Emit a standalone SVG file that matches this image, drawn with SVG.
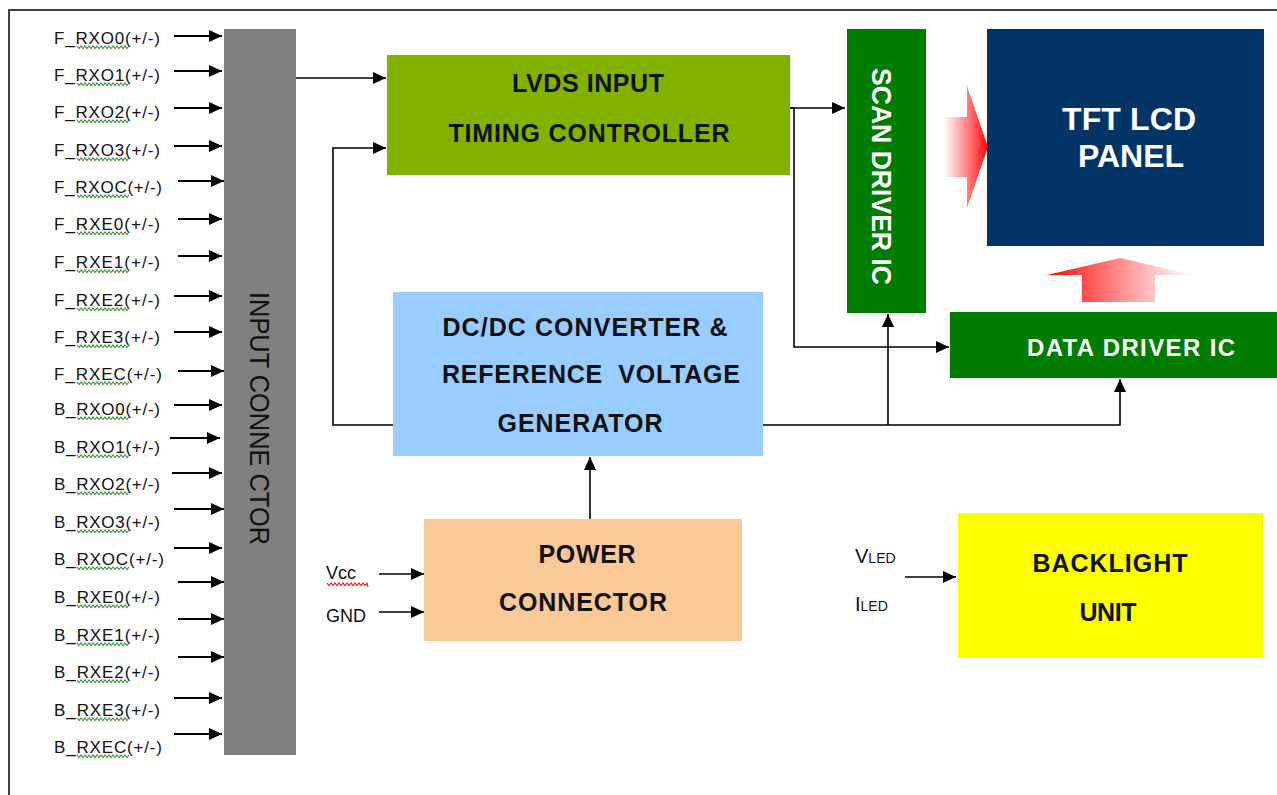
<svg xmlns="http://www.w3.org/2000/svg" width="1277" height="795" viewBox="0 0 1277 795">
<style>
.lbl{font-family:"Liberation Sans",Arial,sans-serif;font-size:17px;fill:#111}
.bt{font-family:"Liberation Sans",Arial,sans-serif;font-weight:bold;font-size:25px;fill:#111;text-anchor:middle}
.wt{fill:#fff}
.ln{stroke:#000;stroke-width:1.6;fill:none}
.in{stroke:#000;stroke-width:2;fill:none}
.sq{stroke:#3a9a3a;stroke-width:1.1;fill:none}
</style>
<defs>
<marker id="ah" markerUnits="userSpaceOnUse" markerWidth="14" markerHeight="12" refX="13" refY="6" orient="auto">
<path d="M0,0 L13,6 L0,12 z" fill="#000"/>
</marker>
<path id="sqp" d="M0 0 l2 2.5 l2 -2.5 l2 2.5 l2 -2.5 l2 2.5 l2 -2.5 l2 2.5 l2 -2.5 l2 2.5 l2 -2.5 l2 2.5 l2 -2.5 l2 2.5 l2 -2.5 l2 2.5 l2 -2.5 l2 2.5 l2 -2.5 l2 2.5 l2 -2.5 l2 2.5 l2 -2.5 l2 2.5 l2 -2.5 l2 2.5 l2 -2.5"/>
<linearGradient id="gr" x1="943" y1="0" x2="988" y2="0" gradientUnits="userSpaceOnUse">
<stop offset="0" stop-color="#ff3030" stop-opacity="0"/>
<stop offset="1" stop-color="#ff0000" stop-opacity="1"/>
</linearGradient>
<linearGradient id="gu" x1="1047" y1="0" x2="1195" y2="0" gradientUnits="userSpaceOnUse">
<stop offset="0" stop-color="#ff0000" stop-opacity="1"/>
<stop offset="1" stop-color="#ff4040" stop-opacity="0"/>
</linearGradient>
</defs>
<rect width="1277" height="795" fill="#fff"/>
<path d="M9,795 V10 H1277" stroke="#404040" stroke-width="2" fill="none"/>

<g id="input-labels">
<text class="lbl" x="54" y="44" textLength="106">F_RXO0(+/-)</text>
<text class="lbl" x="54" y="81" textLength="106">F_RXO1(+/-)</text>
<text class="lbl" x="54" y="118" textLength="106">F_RXO2(+/-)</text>
<text class="lbl" x="54" y="156" textLength="106">F_RXO3(+/-)</text>
<text class="lbl" x="54" y="193" textLength="108">F_RXOC(+/-)</text>
<text class="lbl" x="54" y="230" textLength="106">F_RXE0(+/-)</text>
<text class="lbl" x="54" y="268" textLength="106">F_RXE1(+/-)</text>
<text class="lbl" x="54" y="306" textLength="106">F_RXE2(+/-)</text>
<text class="lbl" x="54" y="343" textLength="106">F_RXE3(+/-)</text>
<text class="lbl" x="54" y="380" textLength="108">F_RXEC(+/-)</text>
<text class="lbl" x="54" y="415" textLength="106">B_RXO0(+/-)</text>
<text class="lbl" x="54" y="453" textLength="106">B_RXO1(+/-)</text>
<text class="lbl" x="54" y="490" textLength="106">B_RXO2(+/-)</text>
<text class="lbl" x="54" y="528" textLength="106">B_RXO3(+/-)</text>
<text class="lbl" x="54" y="565" textLength="110">B_RXOC(+/-)</text>
<text class="lbl" x="54" y="603" textLength="106">B_RXE0(+/-)</text>
<text class="lbl" x="54" y="641" textLength="106">B_RXE1(+/-)</text>
<text class="lbl" x="54" y="678" textLength="106">B_RXE2(+/-)</text>
<text class="lbl" x="54" y="716" textLength="106">B_RXE3(+/-)</text>
<text class="lbl" x="54" y="753" textLength="108">B_RXEC(+/-)</text>
<g class="sq">
<use href="#sqp" x="77" y="46"/><use href="#sqp" x="77" y="83"/><use href="#sqp" x="77" y="120"/><use href="#sqp" x="77" y="158"/><use href="#sqp" x="77" y="195"/>
<use href="#sqp" x="77" y="232"/><use href="#sqp" x="77" y="270"/><use href="#sqp" x="77" y="308"/><use href="#sqp" x="77" y="345"/><use href="#sqp" x="77" y="382"/>
<use href="#sqp" x="77" y="417"/><use href="#sqp" x="77" y="455"/><use href="#sqp" x="77" y="492"/><use href="#sqp" x="77" y="530"/><use href="#sqp" x="77" y="567"/>
<use href="#sqp" x="77" y="605"/><use href="#sqp" x="77" y="643"/><use href="#sqp" x="77" y="680"/><use href="#sqp" x="77" y="718"/><use href="#sqp" x="77" y="755"/>
</g>
</g>

<g id="input-connector">
<rect x="224" y="29" width="72" height="726" fill="#808080"/>
<text x="259" y="428" transform="rotate(90 259 418.5)" font-family="Liberation Sans,Arial,sans-serif" font-size="28" fill="#111" text-anchor="middle" textLength="253" lengthAdjust="spacingAndGlyphs">INPUT CONNE CTOR</text>
</g>

<g id="lvds">
<rect x="387" y="55" width="403" height="120" fill="#82b100"/>
<text class="bt" x="588" y="92" textLength="152">LVDS INPUT</text>
<text class="bt" x="589" y="142" textLength="281">TIMING CONTROLLER</text>
</g>

<g id="dcdc">
<rect x="393" y="292" width="370" height="164" fill="#99ccff"/>
<text class="bt" x="585" y="336" textLength="285">DC/DC CONVERTER &amp;</text>
<text class="bt" x="591" y="383" textLength="298" xml:space="preserve">REFERENCE  VOLTAGE</text>
<text class="bt" x="580" y="432" textLength="165">GENERATOR</text>
</g>

<g id="power">
<rect x="424" y="519" width="318" height="122" fill="#fac998"/>
<text class="bt" x="587" y="563" textLength="97">POWER</text>
<text class="bt" x="583" y="611" textLength="168">CONNECTOR</text>
</g>

<g id="scan-driver">
<rect x="847" y="29" width="79" height="284" fill="#007c00"/>
<text x="882" y="186.5" transform="rotate(90 882 176.5)" font-family="Liberation Sans,Arial,sans-serif" font-weight="bold" font-size="28" fill="#fff" text-anchor="middle" textLength="217" lengthAdjust="spacingAndGlyphs">SCAN DRIVER IC</text>
</g>

<g id="tft-panel">
<rect x="987" y="29" width="277" height="217" fill="#033466"/>
<text class="bt wt" x="1129" y="130" style="font-size:32px" textLength="134">TFT LCD</text>
<text class="bt wt" x="1131" y="167" style="font-size:32px" textLength="106">PANEL</text>
</g>

<g id="data-driver">
<rect x="950" y="312" width="327" height="66" fill="#007c00"/>
<text class="bt wt" x="1131" y="356" style="font-size:24px" textLength="208">DATA DRIVER IC</text>
</g>

<g id="backlight">
<rect x="958" y="513" width="305" height="144" fill="#ffff00"/>
<text class="bt" x="1110" y="572" textLength="155">BACKLIGHT</text>
<text class="bt" x="1108" y="621" textLength="57">UNIT</text>
</g>

<g id="power-labels">
<text class="lbl" x="326" y="579" style="font-size:18px">Vcc</text>
<path d="M327 583 l2 2.5 l2 -2.5 l2 2.5 l2 -2.5 l2 2.5 l2 -2.5 l2 2.5 l2 -2.5 l2 2.5 l2 -2.5 l2 2.5 l2 -2.5 l2 2.5 l2 -2.5 l2 2.5 l2 -2.5 l2 2.5 l2 -2.5 l2 2.5 l2 -2.5 l1 4" stroke="#e02020" stroke-width="1.1" fill="none"/>
<text class="lbl" x="326" y="622" style="font-size:18px">GND</text>
<text class="lbl" x="855" y="563" style="font-size:20px">V<tspan style="font-size:14px">LED</tspan></text>
<text class="lbl" x="855" y="611" style="font-size:20px">I<tspan style="font-size:14px">LED</tspan></text>
</g>

<g id="red-arrows">
<path d="M943,117 H967 V86 L988,147 L967,208 V177 H943 z" fill="url(#gr)"/>
<path d="M1082,302 V275 H1047 L1120,258 L1193,275 H1155 V302 z" fill="url(#gu)"/>
</g>

<g id="connectors">
<g class="in" marker-end="url(#ah)">
<line x1="174" y1="36" x2="222" y2="36"/>
<line x1="174" y1="71" x2="222" y2="71"/>
<line x1="174" y1="108" x2="222" y2="108"/>
<line x1="174" y1="146" x2="222" y2="146"/>
<line x1="178" y1="181" x2="224" y2="181"/>
<line x1="178" y1="219" x2="222" y2="219"/>
<line x1="178" y1="256" x2="222" y2="256"/>
<line x1="174" y1="296" x2="222" y2="296"/>
<line x1="174" y1="332" x2="222" y2="332"/>
<line x1="178" y1="371" x2="224" y2="371"/>
<line x1="174" y1="405" x2="222" y2="405"/>
<line x1="170" y1="438" x2="220" y2="438"/>
<line x1="172" y1="473" x2="222" y2="473"/>
<line x1="174" y1="509" x2="224" y2="509"/>
<line x1="174" y1="548" x2="222" y2="548"/>
<line x1="178" y1="582" x2="224" y2="582"/>
<line x1="178" y1="619" x2="224" y2="619"/>
<line x1="178" y1="657" x2="224" y2="657"/>
<line x1="174" y1="698" x2="222" y2="698"/>
<line x1="174" y1="734" x2="222" y2="734"/>
</g>
<g class="ln" marker-end="url(#ah)">
<line x1="296" y1="78" x2="386" y2="78"/>
<polyline points="393,425 333,425 333,148 386,148"/>
<line x1="790" y1="108" x2="845" y2="108"/>
<polyline points="790,108 794,108 794,347 949,347"/>
<polyline points="763,425 1120,425 1120,379"/>
<line x1="888" y1="425" x2="888" y2="314"/>
<line x1="590" y1="519" x2="590" y2="457"/>
<line x1="379" y1="574" x2="424" y2="574"/>
<line x1="379" y1="612" x2="424" y2="612"/>
<line x1="905" y1="577" x2="956" y2="577"/>
</g>
</g>
</svg>
